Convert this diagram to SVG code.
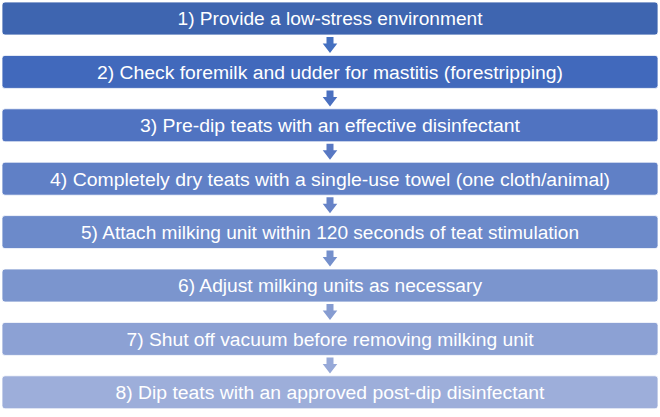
<svg xmlns="http://www.w3.org/2000/svg" width="660" height="417" viewBox="0 0 660 417">
<style>
.box{stroke:#ffffff;stroke-width:0.8}
.lbl{font-family:"Liberation Sans",Arial,sans-serif;font-size:18px;fill:#ffffff;text-anchor:middle}
</style>
<defs>
<path id="arr" d="M-3.5,0 H3.5 V6.5 H7.3 L0,16 L-7.3,6.5 H-3.5 Z"/>
</defs>
<rect width="660" height="417" fill="#ffffff"/>
<g id="connectors">
<use href="#arr" x="330" y="37" fill="#4470C0"/>
<use href="#arr" x="330" y="90.4" fill="#4B70C0"/>
<use href="#arr" x="330" y="143.8" fill="#5878C3"/>
<use href="#arr" x="330" y="197.2" fill="#6783C7"/>
<use href="#arr" x="330" y="250.6" fill="#7590CC"/>
<use href="#arr" x="330" y="304" fill="#869CD1"/>
<use href="#arr" x="330" y="357.4" fill="#97A9D8"/>
</g>
<g id="step1"><rect class="box" x="2" y="2" width="656" height="33" rx="3" fill="#3E65B0"/><text class="lbl" x="330" y="25.3" textLength="305" lengthAdjust="spacingAndGlyphs">1) Provide a low-stress environment</text></g>
<g id="step2"><rect class="box" x="2" y="55.4" width="656" height="33" rx="3" fill="#4169BC"/><text class="lbl" x="330" y="78.7" textLength="466" lengthAdjust="spacingAndGlyphs">2) Check foremilk and udder for mastitis (forestripping)</text></g>
<g id="step3"><rect class="box" x="2" y="108.8" width="656" height="33" rx="3" fill="#5073C1"/><text class="lbl" x="330" y="132.1" textLength="380" lengthAdjust="spacingAndGlyphs">3) Pre-dip teats with an effective disinfectant</text></g>
<g id="step4"><rect class="box" x="2" y="162.2" width="656" height="33" rx="3" fill="#6080C6"/><text class="lbl" x="330" y="185.5" textLength="560" lengthAdjust="spacingAndGlyphs">4) Completely dry teats with a single-use towel (one cloth/animal)</text></g>
<g id="step5"><rect class="box" x="2" y="215.6" width="656" height="33" rx="3" fill="#6C8ACA"/><text class="lbl" x="330" y="238.9" textLength="498" lengthAdjust="spacingAndGlyphs">5) Attach milking unit within 120 seconds of teat stimulation</text></g>
<g id="step6"><rect class="box" x="2" y="269" width="656" height="33" rx="3" fill="#7B95CE"/><text class="lbl" x="330" y="292.3" textLength="304" lengthAdjust="spacingAndGlyphs">6) Adjust milking units as necessary</text></g>
<g id="step7"><rect class="box" x="2" y="322.4" width="656" height="33" rx="3" fill="#8CA1D4"/><text class="lbl" x="330" y="345.7" textLength="407" lengthAdjust="spacingAndGlyphs">7) Shut off vacuum before removing milking unit</text></g>
<g id="step8"><rect class="box" x="2" y="375.8" width="656" height="33" rx="3" fill="#9DAEDA"/><text class="lbl" x="330" y="399.1" textLength="429" lengthAdjust="spacingAndGlyphs">8) Dip teats with an approved post-dip disinfectant</text></g>
</svg>
